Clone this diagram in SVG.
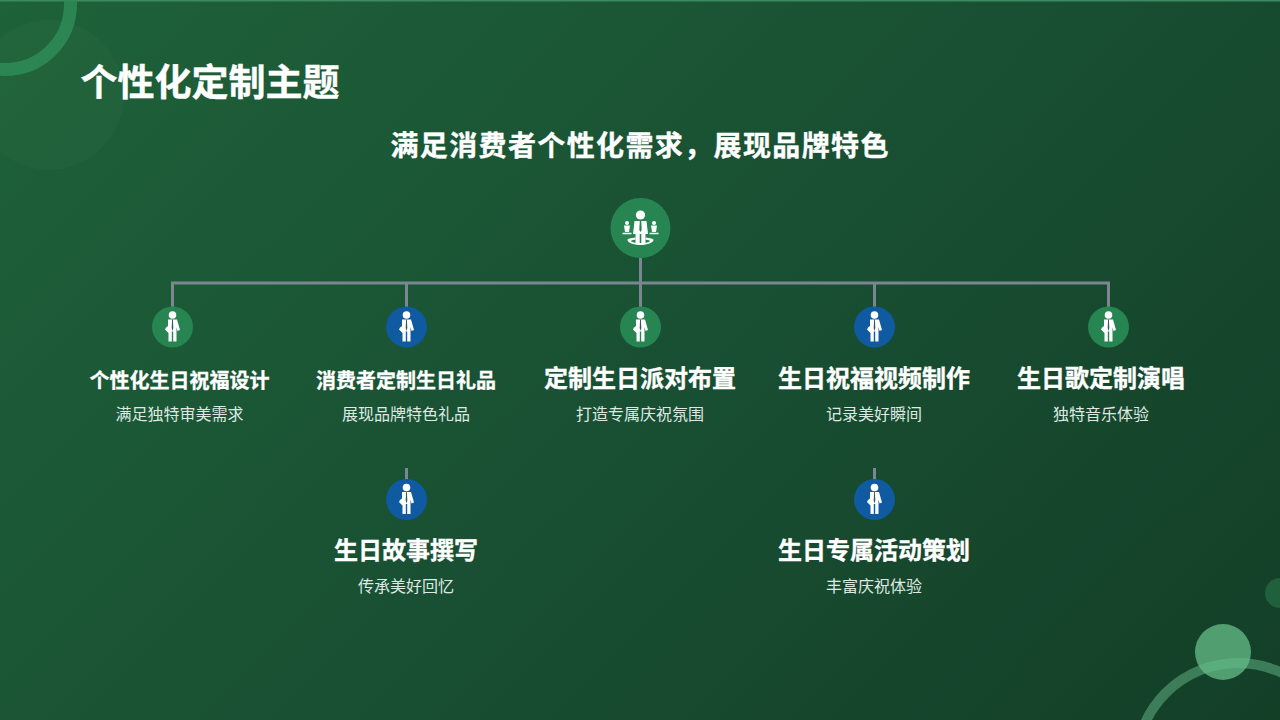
<svg xmlns="http://www.w3.org/2000/svg" width="1280" height="720" viewBox="0 0 1280 720">
<defs>
<linearGradient id="bg" gradientUnits="userSpaceOnUse" x1="140" y1="-140" x2="1140" y2="860"><stop offset="0" stop-color="#1e6239"/><stop offset=".5" stop-color="#195033"/><stop offset="1" stop-color="#133f27"/></linearGradient>
<g id="person"><circle cx="0" cy="-12" r="3.800"/><path d="M-4.500-7.500H4.500L7.500 3 5 4 4 0V14.500H.7V4.500H-.7V14.500H-4V6L-7.500 2.500-6.500 .5-4.500-1Z"/><path d="M-.4-7.500H.4L.8 1 0 4-.8 1Z" fill="#2b5a55"/></g>
<g id="group-icon"><circle cx="0" cy="-13" r="4.600"/><path d="M-6-7H6L7.500 6H5V15H.8V6H-.8V15H-5V6H-7.500Z"/><path d="M-.7-7H.7L1.200 2 0 4-1.200 2Z" fill="#258050"/><path d="M-5 9.500C-10 10-13 10.800-13 12-13 14.500-7 17 0 17S13 14.500 13 12C13 10.800 10 10 5 9.500V11.500C8 12 9.500 12.500 9.500 13 9.500 14 5 15 0 15S-9.500 14-9.500 13C-9.500 12.500-8 12-5 11.500Z"/><circle cx="-13.500" cy="-5" r="2"/><path d="M-16.500-2.500H-10.500L-11.500 4H-15.500Z"/><circle cx="13.500" cy="-5" r="2"/><path d="M10.500-2.500H16.500L15.500 4H11.500Z"/><path d="M-18 5.500H-9M9 5.500H18" stroke="#fff" stroke-width="1.500"/></g>
</defs>
<style>
text{font-family:"Noto Sans CJK SC","Liberation Sans",sans-serif;fill:#fff;text-anchor:middle}
.t{font-weight:700;font-size:24px;stroke:#fff;stroke-width:.35}
.t2{font-weight:700;font-size:20px;stroke:#fff;stroke-width:.3}
.s{font-size:16px;fill:#dfe9e3}
.g{fill:#278552}
.b{fill:#0f5aa0}
.ic{fill:#fff}
.c{fill:none;stroke:#7a8791;stroke-width:3}
</style>
<rect width="1280" height="720" fill="url(#bg)"/>
<rect width="1280" height="1.500" fill="#3d8a60"/>
<g id="decor">
<circle cx="49" cy="95" r="75" fill="#fff" fill-opacity=".02"/>
<circle cx="5" cy="4" r="65.500" fill="none" stroke="#2e8c58" stroke-opacity=".85" stroke-width="13"/>
<circle cx="1280" cy="593" r="15" fill="#20603c"/>
<circle cx="1238" cy="765" r="102" fill="none" stroke="#6fc795" stroke-opacity=".45" stroke-width="10"/>
<circle cx="1223" cy="652" r="28" fill="#66bd8a" fill-opacity=".75"/>
</g>
<text x="210" y="96" style="font-weight:700;font-size:37px;stroke:#fff;stroke-width:.4">个性化定制主题</text>
<text x="639.500" y="155.500" style="font-weight:700;font-size:28px;stroke:#fff;stroke-width:.35" textLength="498">满足消费者个性化需求，展现品牌特色</text>
<g id="connectors">
<path class="c" d="M640.500 258V283M172.500 307V283H1108.500V307M406.500 283V307M640.500 283V307M874.500 283V307"/>
<path class="c" d="M406.500 468V480M874.500 468V480"/>
</g>
<g id="root"><circle class="g" cx="640.500" cy="228" r="30"/><use href="#group-icon" x="640.500" y="228" class="ic"/></g>
<g id="n1"><circle class="g" cx="172.500" cy="327" r="20.500"/><use href="#person" x="172.500" y="327" class="ic"/><text class="t2" x="179.500" y="387.500">个性化生日祝福设计</text><text class="s" x="179.500" y="420">满足独特审美需求</text></g>
<g id="n2"><circle class="b" cx="406.500" cy="327" r="20.500"/><use href="#person" x="406.500" y="327" class="ic"/><text class="t2" x="406" y="387.500">消费者定制生日礼品</text><text class="s" x="406" y="420">展现品牌特色礼品</text></g>
<g id="n3"><circle class="g" cx="640.500" cy="327" r="20.500"/><use href="#person" x="640.500" y="327" class="ic"/><text class="t" x="640" y="387">定制生日派对布置</text><text class="s" x="640" y="420">打造专属庆祝氛围</text></g>
<g id="n4"><circle class="b" cx="874.500" cy="327" r="20.500"/><use href="#person" x="874.500" y="327" class="ic"/><text class="t" x="874" y="387">生日祝福视频制作</text><text class="s" x="874" y="420">记录美好瞬间</text></g>
<g id="n5"><circle class="g" cx="1108.500" cy="327" r="20.500"/><use href="#person" x="1108.500" y="327" class="ic"/><text class="t" x="1101" y="387">生日歌定制演唱</text><text class="s" x="1101" y="420">独特音乐体验</text></g>
<g id="n6"><circle class="b" cx="406.500" cy="499.500" r="20.500"/><use href="#person" x="406.500" y="499.500" class="ic"/><text class="t" x="406" y="559">生日故事撰写</text><text class="s" x="406" y="592">传承美好回忆</text></g>
<g id="n7"><circle class="b" cx="874.500" cy="499.500" r="20.500"/><use href="#person" x="874.500" y="499.500" class="ic"/><text class="t" x="874" y="559">生日专属活动策划</text><text class="s" x="874" y="592">丰富庆祝体验</text></g>
</svg>
